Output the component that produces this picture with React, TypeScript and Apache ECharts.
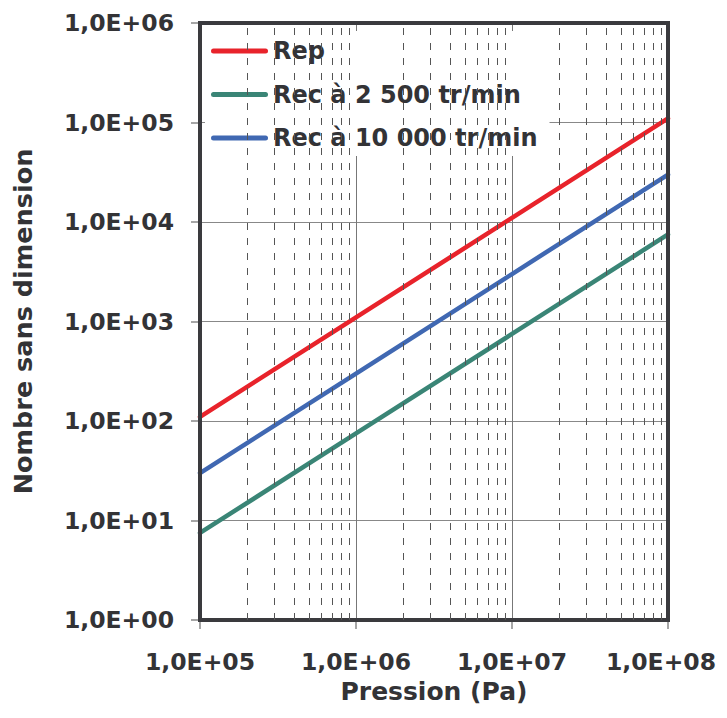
import React, { useEffect, useRef } from "react";
import * as echarts from "echarts";

const pressure = [1e5, 1e6, 1e7, 1e8];
const rep = [110, 1100, 11000, 110000];
const rec2500 = [7.5, 75, 750, 7500];
const rec10000 = [30, 300, 3000, 30000];
const seriesNames = ["Rep", "Rec à 2 500 tr/min", "Rec à 10 000 tr/min"];
const seriesColors = ["#e8232b", "#3a8576", "#4068b2"];
const minorX = [
  2e5, 3e5, 4e5, 5e5, 6e5, 7e5, 8e5, 9e5,
  2e6, 3e6, 4e6, 5e6, 6e6, 7e6, 8e6, 9e6,
  2e7, 3e7, 4e7, 5e7, 6e7, 7e7, 8e7, 9e7,
];
const tickLabels = ["1,0E+00", "1,0E+01", "1,0E+02", "1,0E+03", "1,0E+04", "1,0E+05", "1,0E+06", "1,0E+07", "1,0E+08"];

const FONT = "'DejaVu Sans', sans-serif";
const TXT = "#333336";
const LEGEND_ICON = "path://M2.5,0 H54.5 A2.5,2.5 0 0 1 54.5,5 H2.5 A2.5,2.5 0 0 1 2.5,0 Z";

const fmt = (v: number) => tickLabels[Math.round(Math.log10(v))] ?? "";
const fmtX = (v: number) => {
  const e = Math.round(Math.log10(v));
  const s = tickLabels[e] ?? "";
  return e === 8 ? `{last|${s}}` : s;
};

export default function App() {
  const ref = useRef<HTMLDivElement>(null);
  useEffect(() => {
    document.documentElement.style.overflow = "hidden";
    document.body.style.margin = "0";
    document.body.style.overflow = "hidden";
    if (!ref.current) return;
    const chart = echarts.init(ref.current, undefined, { renderer: "svg" });
    const mk = (vals: number[]) => pressure.map((p, i) => [p, vals[i]]);
    const lineSeries = [rep, rec2500, rec10000].map((vals, i) => ({
      name: seriesNames[i],
      type: "line",
      data: mk(vals),
      symbol: "none",
      z: 3,
      lineStyle: { color: seriesColors[i], width: 4.5, cap: "round" },
      itemStyle: { color: seriesColors[i] },
    }));
    const labelFont = { fontFamily: FONT, fontWeight: "bold" as const, fontSize: 23.5, color: TXT };
    chart.setOption({
      animation: false,
      backgroundColor: "#fff",
      grid: {
        left: 200,
        top: 23,
        right: 59,
        bottom: 98,
        show: true,
        borderColor: "#3a3a3e",
        borderWidth: 4,
        backgroundColor: "transparent",
        containLabel: false,
        outerBoundsMode: "none",
        z: 5,
      },
      legend: {
        data: seriesNames.map((n) => ({ name: n, icon: LEGEND_ICON })),
        left: 205,
        top: 31,
        orient: "vertical",
        backgroundColor: "#fff",
        padding: [8, 12, 6, 6],
        itemWidth: 57,
        itemHeight: 5,
        itemGap: 19.5,
        textStyle: {
          fontFamily: FONT,
          fontWeight: "bold",
          fontSize: 24,
          lineHeight: 24,
          color: TXT,
        },
        z: 4,
      },
      xAxis: {
        type: "log",
        logBase: 10,
        min: 1e5,
        max: 1e8,
        interval: 1,
        name: "Pression (Pa)",
        nameLocation: "middle",
        nameGap: 59,
        nameTextStyle: { fontFamily: FONT, fontWeight: "bold", fontSize: 25, color: TXT },
        axisLine: { show: true, lineStyle: { color: "#3a3a3e", width: 4 } },
        axisTick: { show: true, length: 9, inside: false, lineStyle: { color: "#888", width: 1.5 } },
        axisLabel: {
          formatter: fmtX,
          ...labelFont,
          margin: 30,
          overflow: "none",
          hideOverlap: false,
          rich: { last: { ...labelFont, padding: [0, 14, 0, 0] } },
        },
        splitLine: { show: true, lineStyle: { color: "#777", width: 1 } },
      },
      yAxis: {
        type: "log",
        logBase: 10,
        min: 1,
        max: 1e6,
        interval: 1,
        name: "Nombre sans dimension",
        nameLocation: "middle",
        nameGap: 164,
        nameTextStyle: { fontFamily: FONT, fontWeight: "bold", fontSize: 25.5, color: TXT },
        axisLine: { show: true, lineStyle: { color: "#3a3a3e", width: 4 } },
        axisTick: { show: true, length: 9, inside: false, lineStyle: { color: "#888", width: 1.5 } },
        axisLabel: {
          formatter: fmt,
          ...labelFont,
          margin: 26,
        },
        splitLine: { show: true, lineStyle: { color: "#888", width: 1 } },
      },
      series: [
        {
          name: "minor",
          type: "line",
          data: [],
          z: 1,
          silent: true,
          markLine: {
            silent: true,
            symbol: ["none", "none"],
            label: { show: false },
            lineStyle: { color: "#555", width: 1, type: [7, 8] },
            emphasis: { disabled: true },
            data: minorX.map((v) => ({ xAxis: v })),
          },
        },
        ...lineSeries,
      ],
    });
    return () => chart.dispose();
  }, []);
  return <div ref={ref} style={{ width: 727, height: 718 }} />;
}
